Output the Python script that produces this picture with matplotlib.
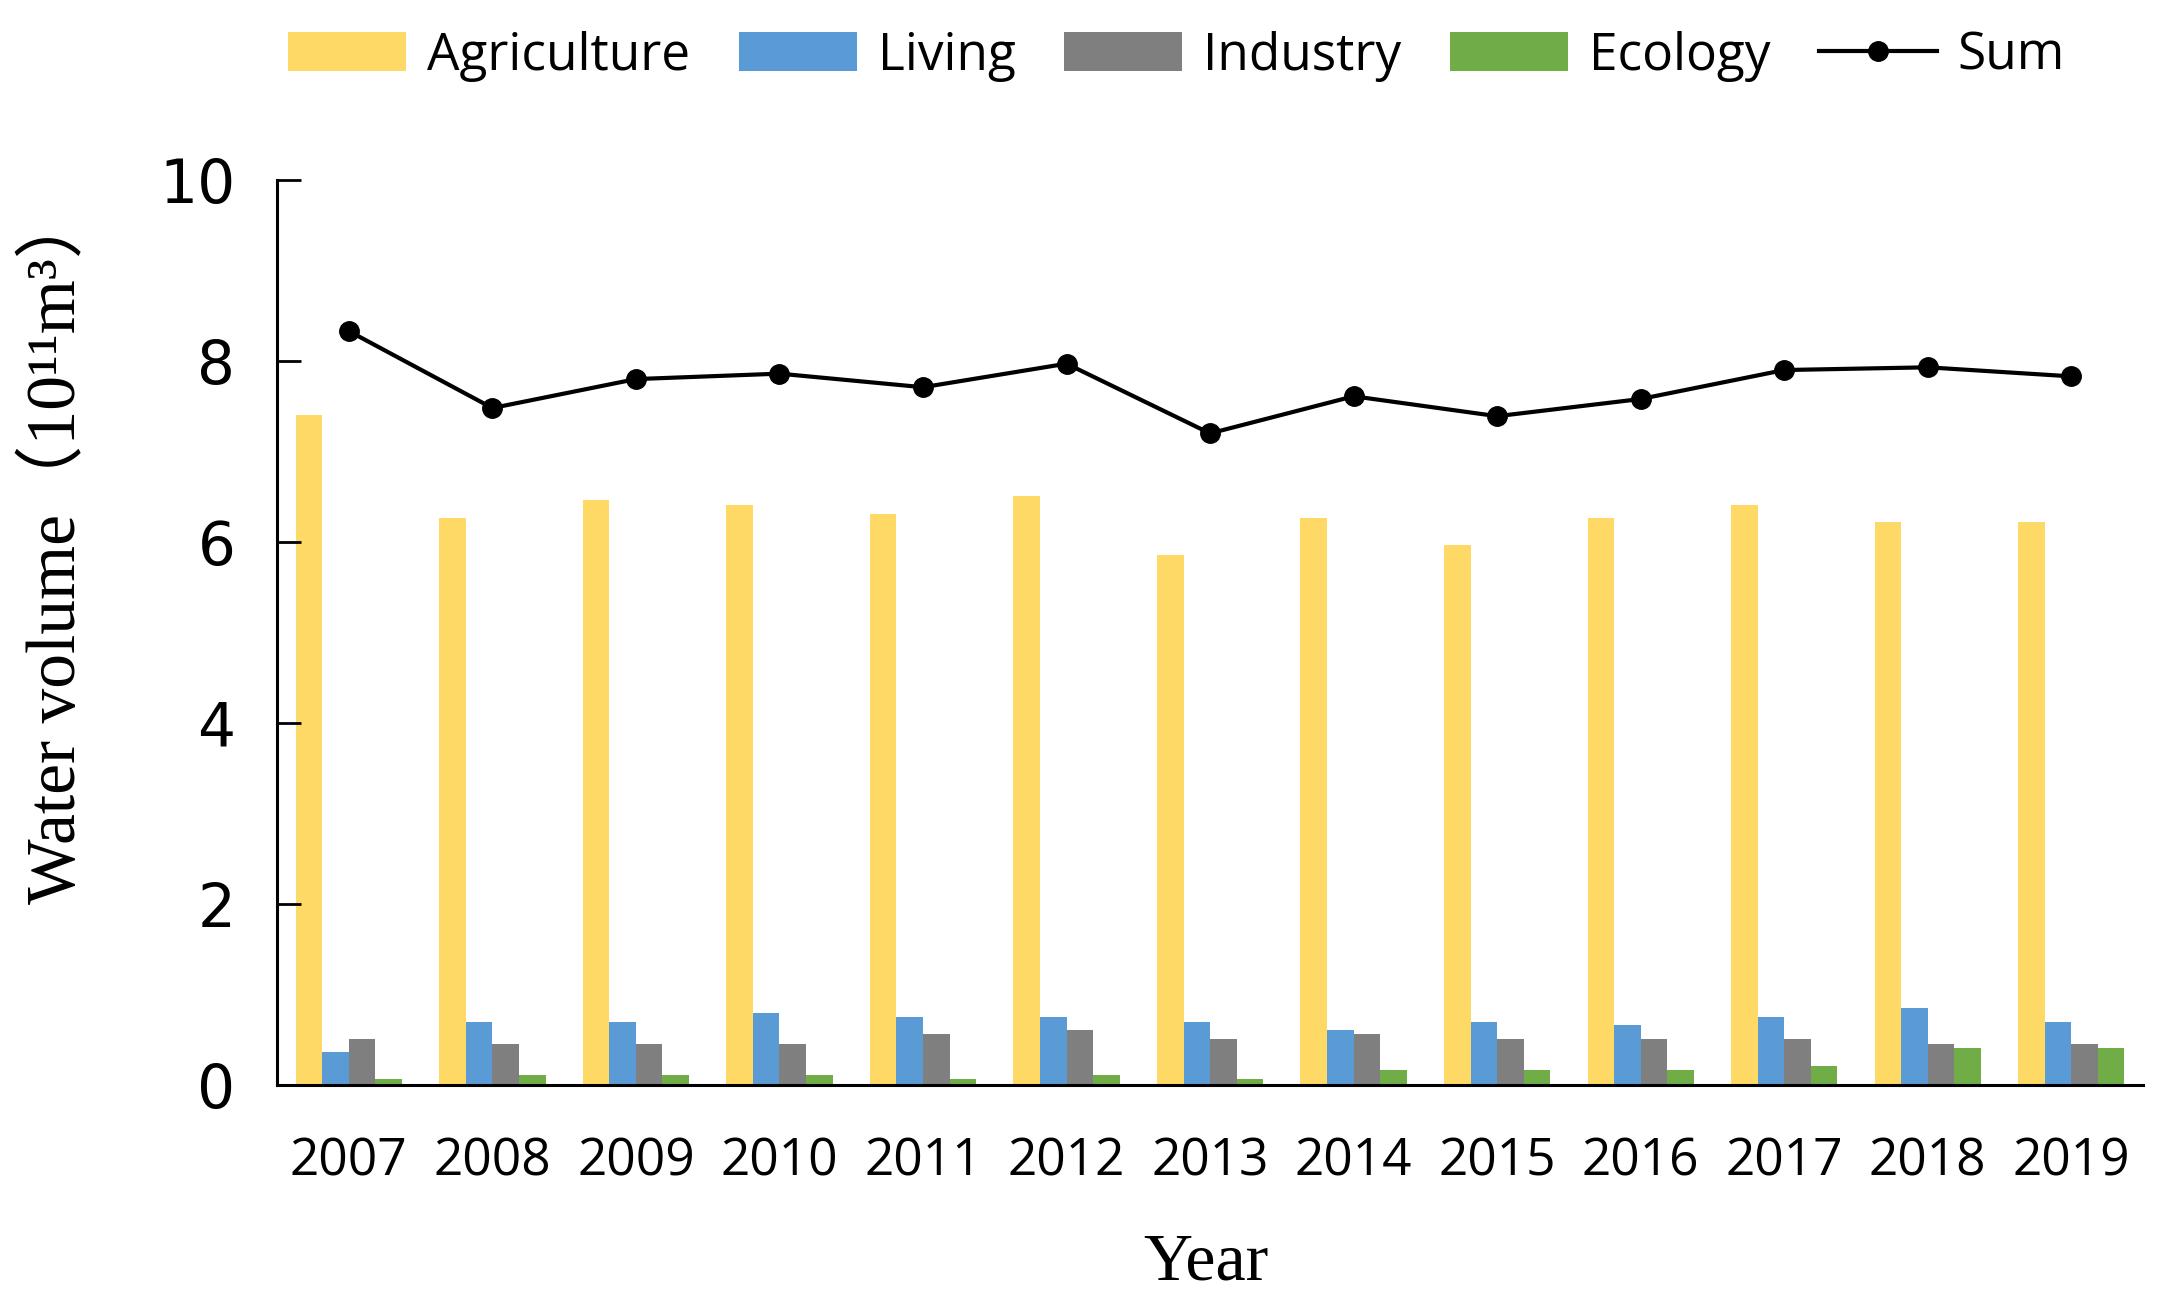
import matplotlib
matplotlib.use('Agg')
import matplotlib.pyplot as plt
import numpy as np

# 各年份用水量数据（10^11 m3）
years = ['2007', '2008', '2009', '2010', '2011', '2012', '2013',
         '2014', '2015', '2016', '2017', '2018', '2019']
agriculture = [7.40, 6.27, 6.46, 6.41, 6.31, 6.51, 5.86, 6.26, 5.97, 6.26, 6.41, 6.22, 6.22]
living = [0.36, 0.70, 0.70, 0.80, 0.75, 0.75, 0.70, 0.61, 0.70, 0.66, 0.75, 0.85, 0.70]
industry = [0.51, 0.45, 0.45, 0.45, 0.56, 0.61, 0.51, 0.56, 0.51, 0.51, 0.51, 0.45, 0.45]
ecology = [0.07, 0.11, 0.11, 0.11, 0.07, 0.11, 0.07, 0.17, 0.17, 0.17, 0.21, 0.41, 0.41]
total = [8.33, 7.48, 7.80, 7.86, 7.71, 7.97, 7.20, 7.61, 7.39, 7.58, 7.90, 7.93, 7.83]

series = [('Agriculture', agriculture, '#FFD966'),
          ('Living', living, '#5B9BD5'),
          ('Industry', industry, '#7F7F7F'),
          ('Ecology', ecology, '#70AD47')]

fig = plt.figure(figsize=(21.75, 13.1), dpi=100)
ax = fig.add_axes([0.1274, 0.1718, 0.8579, 0.6908])

x = np.arange(len(years))
w = 0.185
handles = []
for i, (name, vals, col) in enumerate(series):
    b = ax.bar(x + (i - 1.5) * w, vals, width=w, color=col, label=name)
    handles.append(b)
line, = ax.plot(x, total, color='black', lw=3, marker='o', markersize=14, label='Sum')
handles.append(line)

ax.set_xlim(-0.5, len(years) - 0.5)
ax.set_ylim(0, 10)
ax.set_yticks(np.arange(0, 11, 2))
ax.set_xticks(x)
ax.set_xticklabels(years, fontfamily='Open Sans', fontsize=37)
for lab in ax.get_yticklabels():
    lab.set_fontfamily('DejaVu Sans')
    lab.set_fontsize(43)

for s in ['top', 'right']:
    ax.spines[s].set_visible(False)
for s in ['left', 'bottom']:
    ax.spines[s].set_linewidth(2.2)
ax.tick_params(axis='y', direction='in', length=17, width=2, pad=30)
ax.tick_params(axis='x', length=0, pad=37)

ax.set_ylabel('Water volume（10¹¹m³）', family=['Liberation Serif', 'Noto Sans CJK SC'],
              fontsize=50)
ax.yaxis.set_label_coords(-0.100, 0.595)
ax.set_xlabel('Year', family='Liberation Serif', fontsize=49)
ax.xaxis.set_label_coords(0.498, -0.163)

fig.legend(handles=handles, loc='upper center', bbox_to_anchor=(0.541, 1.012), ncol=5,
           frameon=False, prop={'family': 'Open Sans', 'size': 37}, handlelength=2.3,
           handleheight=0.78, handletextpad=0.4, columnspacing=0.95)

fig.savefig('out.png', dpi=100)
